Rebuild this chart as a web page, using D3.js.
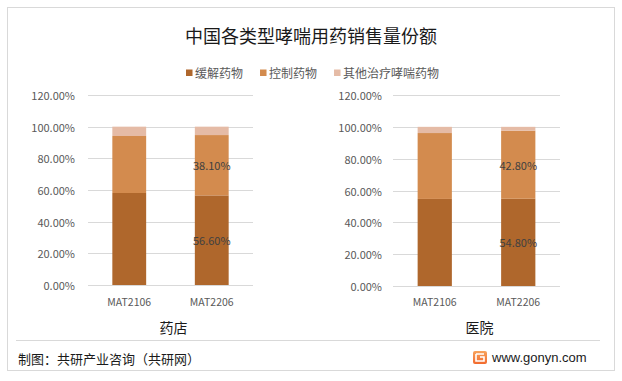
<!DOCTYPE html>
<html><head><meta charset="utf-8">
<script src="https://cdn.jsdelivr.net/npm/d3@7/dist/d3.min.js"></script>
<style>
html,body{margin:0;padding:0;background:#fff;}
svg{display:block;font-family:"Noto Sans CJK SC","Noto Sans",sans-serif;}
</style></head>
<body>
<svg id="chart" width="622" height="381"></svg>
<script>
// ---- data ----
const title = "中国各类型哮喘用药销售量份额";
const seriesNames = ["缓解药物", "控制药物", "其他治疗哮喘药物"];
const categories = ["MAT2106", "MAT2206"];
const panels = ["药店", "医院"];
// values per panel, per category (percent)
const pharmacyRelief  = [58.1, 56.6];
const pharmacyControl = [36.0, 38.1];
const pharmacyOther   = [5.9, 5.3];
const hospitalRelief  = [54.7, 54.8];
const hospitalControl = [41.4, 42.8];
const hospitalOther   = [3.9, 2.4];
const yTicks = [0, 20, 40, 60, 80, 100, 120];
const labelledCategory = "MAT2206";
const footerLeft = "制图：共研产业咨询（共研网）";
const footerRight = "www.gonyn.com";

const colors = ["#AF672C", "#D38B4E", "#E5BBA6"];

const svg = d3.select("#chart");
svg.append("rect").attr("x",0).attr("y",0).attr("width",622).attr("height",381).attr("fill","#fff");
svg.append("rect").attr("x",7.5).attr("y",7.5).attr("width",607).attr("height",363)
  .attr("fill","none").attr("stroke","#d9d9d9");

// title
svg.append("text").attr("x",311).attr("y",35).attr("text-anchor","middle").attr("dominant-baseline","central")
  .attr("font-size",18).attr("fill","#1a1a1a").text(title);

// legend
const lg = svg.append("g");
let lx = 186;
seriesNames.forEach((n,i)=>{
  lg.append("rect").attr("x",lx).attr("y",69.5).attr("width",6.5).attr("height",6.5).attr("fill",colors[i]);
  const t = lg.append("text").attr("x",lx+9).attr("y",72.7).attr("dominant-baseline","central")
    .attr("font-size",12).attr("fill","#595959").text(n);
  lx += 9 + t.node().getComputedTextLength() + 17;
});

const panelData = [
  {name: panels[0], series:[pharmacyRelief, pharmacyControl, pharmacyOther], x0:88, x1:253, yb:285, yt:95, labelX:75},
  {name: panels[1], series:[hospitalRelief, hospitalControl, hospitalOther], x0:393, x1:560, yb:286, yt:95, labelX:382}
];

panelData.forEach(p=>{
  const g = svg.append("g");
  const y = d3.scaleLinear().domain([0,120]).range([p.yb, p.yt]);
  const x = d3.scaleBand().domain(categories).range([p.x0, p.x1]).paddingInner(0.59).paddingOuter(0.295);
  g.selectAll("line.grid").data(yTicks).join("line")
    .attr("x1",p.x0).attr("x2",p.x1).attr("y1",d=>Math.round(y(d))+0.5).attr("y2",d=>Math.round(y(d))+0.5)
    .attr("stroke","#d9d9d9").attr("stroke-width",1);
  g.selectAll("text.yl").data(yTicks).join("text")
    .attr("x",p.labelX).attr("y",d=>y(d)).attr("text-anchor","end").attr("dominant-baseline","central")
    .attr("font-size",11).attr("fill","#595959").text(d=>d.toFixed(2)+"%");
  const rows = categories.map((c,ci)=>{const o={cat:c}; seriesNames.forEach((s,si)=>o[s]=p.series[si][ci]); return o;});
  const stacked = d3.stack().keys(seriesNames)(rows);
  stacked.forEach((layer,si)=>{
    g.selectAll(null).data(layer).join("rect")
      .attr("x",d=>x(d.data.cat)).attr("width",x.bandwidth())
      .attr("y",d=>y(d[1])).attr("height",d=>y(d[0])-y(d[1]))
      .attr("fill",colors[si]);
  });
  stacked.slice(0,2).forEach(layer=>{
    const d = layer.find(e=>e.data.cat===labelledCategory);
    g.append("text").attr("x",x(d.data.cat)+x.bandwidth()/2).attr("y",y((d[0]+d[1])/2))
      .attr("text-anchor","middle").attr("dominant-baseline","central")
      .attr("font-size",11).attr("fill","#404040").text((d[1]-d[0]).toFixed(2)+"%");
  });
  g.selectAll("text.xl").data(categories).join("text")
    .attr("x",d=>x(d)+x.bandwidth()/2).attr("y",301.5).attr("text-anchor","middle").attr("dominant-baseline","central")
    .attr("font-size",10.5).attr("fill","#595959").text(d=>d);
  g.append("text").attr("x",(p.x0+p.x1)/2+3).attr("y",327).attr("text-anchor","middle").attr("dominant-baseline","central")
    .attr("font-size",14).attr("fill","#1a1a1a").text(p.name);
});

// footer
svg.append("line").attr("x1",16).attr("x2",600).attr("y1",340.5).attr("y2",340.5).attr("stroke","#d9d9d9");
svg.append("text").attr("x",18).attr("y",358).attr("dominant-baseline","central")
  .attr("font-size",13).attr("fill","#1a1a1a").text(footerLeft);
const defs = svg.append("defs");
const grad = defs.append("linearGradient").attr("id","lg1").attr("x1","0").attr("y1","0").attr("x2","0").attr("y2","1");
grad.append("stop").attr("offset","0").attr("stop-color","#f7a35c");
grad.append("stop").attr("offset","1").attr("stop-color","#f26a2e");
svg.append("rect").attr("x",473).attr("y",351).attr("width",14).attr("height",13).attr("rx",2).attr("fill","url(#lg1)");
svg.append("path").attr("d","M476,354 h8 M476,354 v7 h8 v-4 h-4").attr("fill","none").attr("stroke","#fff").attr("stroke-width",1.6);
svg.append("text").attr("x",492).attr("y",357).attr("dominant-baseline","central")
  .attr("font-family","'Liberation Sans',Arial,sans-serif").attr("font-size",13).attr("fill","#1a1a1a").text(footerRight);
</script>
</body></html>
